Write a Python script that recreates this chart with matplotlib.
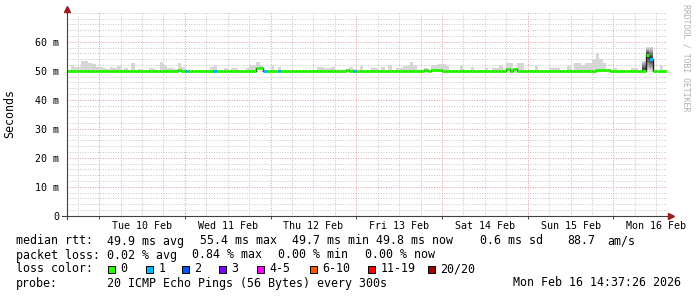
import matplotlib.pyplot as plt
from matplotlib.lines import Line2D
from matplotlib.patches import Rectangle

plt.rcParams['font.family'] = ['DejaVu Sans Mono', 'DejaVu Sans']

# hourly bins, first bin starts Mon 9 Feb 15:00 (x axis = hours after Mon 9 Feb 00:00)
first_hour = 15
day_labels = ['Tue 10 Feb', 'Wed 11 Feb', 'Thu 12 Feb', 'Fri 13 Feb',
              'Sat 14 Feb', 'Sun 15 Feb', 'Mon 16 Feb']

# median rtt per hour (ms)
median_ms = [
    50.0, 50.0, 50.0, 50.0, 50.0, 50.0, 50.0, 50.0, 50.0, 50.0, 50.0, 50.0,
    50.0, 50.0, 50.0, 50.0, 50.0, 50.0, 50.0, 50.0, 50.0, 50.0, 50.0, 50.0,
    50.0, 50.0, 50.0, 50.0, 50.0, 50.0, 50.0, 50.2, 50.0, 49.9, 49.9, 50.0,
    50.0, 50.0, 50.0, 50.0, 50.0, 49.9, 50.0, 50.0, 50.0, 50.0, 50.0, 50.0,
    50.0, 50.0, 50.0, 50.0, 50.0, 50.8, 50.8, 49.9, 50.0, 50.0, 50.0, 49.9,
    50.0, 50.0, 50.0, 50.0, 50.0, 50.0, 50.0, 50.0, 50.0, 50.0, 50.0, 50.0,
    50.0, 50.0, 50.0, 50.0, 50.0, 50.0, 50.4, 50.0, 49.9, 50.0, 50.0, 50.0,
    50.0, 50.0, 50.0, 50.0, 50.0, 50.0, 50.0, 50.0, 50.0, 50.0, 50.0, 50.0,
    50.0, 50.0, 50.0, 50.0, 50.3, 50.0, 50.4, 50.4, 50.2, 50.0, 50.0, 50.0,
    50.0, 50.0, 50.0, 50.0, 50.0, 50.0, 50.0, 50.0, 50.0, 50.0, 50.0, 50.0,
    50.0, 50.0, 50.0, 50.5, 50.0, 50.6, 50.0, 50.0, 50.0, 50.0, 50.0, 50.0,
    50.0, 50.0, 50.0, 50.0, 50.0, 50.0, 50.0, 50.0, 50.0, 50.0, 50.0, 50.0,
    50.0, 50.0, 50.0, 50.0, 50.3, 50.3, 50.3, 50.3, 49.9, 50.0, 50.0, 50.0,
    50.0, 50.0, 50.0, 50.0, 50.0, 50.0, 55.4, 54.2, 49.9, 49.9, 49.9, 49.8,
]

# lost pings out of 20 per hour
loss = [
    0, 0, 0, 0, 0, 0, 0, 0, 0, 0, 0, 0, 0, 0, 0, 0, 0, 0, 0, 0, 0, 0, 0, 0,
    0, 0, 0, 0, 0, 0, 0, 0, 0, 1, 0, 0, 0, 0, 0, 0, 0, 1, 0, 0, 0, 0, 0, 0,
    0, 0, 0, 0, 0, 0, 0, 1, 0, 0, 0, 1, 0, 0, 0, 0, 0, 0, 0, 0, 0, 0, 0, 0,
    0, 0, 0, 0, 0, 0, 0, 0, 1, 0, 0, 0, 0, 0, 0, 0, 0, 0, 0, 0, 0, 0, 0, 0,
    0, 0, 0, 0, 0, 0, 0, 0, 0, 0, 0, 0, 0, 0, 0, 0, 0, 0, 0, 0, 0, 0, 0, 0,
    0, 0, 0, 0, 0, 0, 0, 0, 0, 0, 0, 0, 0, 0, 0, 0, 0, 0, 0, 0, 0, 0, 0, 0,
    0, 0, 0, 0, 0, 0, 0, 0, 0, 0, 0, 0, 0, 0, 0, 0, 0, 0, 0, 1, 0, 0, 0, 0,
]

# slowest ping per hour (ms) - top of the smoke
smoke_max = [
    50.3, 52.0, 51.3, 51.3, 53.3, 53.3, 52.7, 52.4, 51.3, 51.3, 50.9, 50.6,
    51.4, 50.9, 51.7, 50.4, 50.8, 50.3, 52.6, 50.4, 50.7, 50.3, 50.3, 50.8,
    50.6, 50.3, 53.0, 52.1, 51.0, 50.9, 50.7, 52.6, 51.2, 50.3, 50.3, 50.3,
    50.3, 50.3, 50.3, 50.3, 51.2, 51.6, 50.4, 50.3, 51.1, 50.3, 51.1, 51.1,
    50.3, 50.3, 51.1, 52.0, 52.0, 52.9, 51.8, 50.4, 50.4, 51.6, 50.3, 51.3,
    50.3, 50.3, 50.3, 50.3, 50.3, 50.3, 50.3, 50.3, 50.3, 50.3, 51.3, 51.3,
    51.1, 51.1, 51.3, 50.3, 50.3, 50.3, 50.6, 51.3, 50.6, 50.3, 51.6, 50.3,
    50.3, 50.9, 50.9, 50.3, 51.3, 50.3, 52.1, 50.3, 51.1, 51.1, 51.6, 51.6,
    52.9, 52.1, 50.3, 50.3, 51.1, 50.3, 52.1, 52.1, 52.2, 52.2, 51.6, 50.4,
    50.3, 50.3, 51.8, 50.3, 50.3, 51.3, 50.3, 50.3, 50.3, 51.1, 50.3, 50.9,
    50.9, 51.8, 50.3, 52.5, 52.5, 50.8, 52.7, 52.7, 50.3, 50.3, 50.3, 51.6,
    50.3, 50.3, 50.3, 51.1, 51.1, 51.1, 50.3, 50.3, 51.6, 50.3, 52.7, 52.7,
    51.9, 52.5, 52.5, 53.9, 56.0, 54.2, 52.5, 50.4, 50.3, 51.1, 50.3, 50.3,
    50.3, 50.3, 50.9, 50.9, 50.3, 53.5, 58.2, 58.2, 50.3, 50.3, 52.1, 50.3,
]

# hours with a wide spread of ping times (dense smoke)
dense_bins = [161, 162, 163]
dense_min = [50.0, 50.3, 50.0]

loss_labels = ['0', '1', '2', '3', '4-5', '6-10', '11-19', '20/20']
loss_colors = ['#26ff00', '#00b8ff', '#0059ff', '#7e00ff',
               '#ff00ff', '#ff5500', '#ff0000', '#a10000']

stats_rtt = ['49.9 ms avg', '55.4 ms max', '49.7 ms min', '49.8 ms now',
             '0.6 ms sd', '88.7', 'am/s']
stats_loss = ['0.02 % avg', '0.84 % max', '0.00 % min', '0.00 % now']
probe_text = '20 ICMP Echo Pings (56 Bytes) every 300s'
stamp_text = 'Mon Feb 16 14:37:26 2026'

W, H = 697, 297
fig = plt.figure(figsize=(W / 100, H / 100), dpi=100)
fig.patch.set_facecolor('white')
ax = fig.add_axes([67 / W, (H - 215.7) / H, 600 / W, 203.8 / H])
ax.set_xlim(first_hour, first_hour + len(median_ms))
ax.set_ylim(0, 70.28)
for s in ax.spines.values():
    s.set_visible(False)

# grid
minor_c = '#c4c4c4'
major_c = '#e09a9a'
dots = (0, (1, 1.6))
for v in range(2, 71, 2):
    if v % 10 != 0 or v == 70:
        ax.axhline(v, color=minor_c, lw=0.7, ls=dots, zorder=0)
for v in range(10, 70, 10):
    ax.axhline(v, color=major_c, lw=0.7, ls=dots, zorder=0)
for h in range(18, first_hour + len(median_ms), 6):
    ax.axvline(h, color=major_c if h % 24 == 0 else minor_c, lw=0.7, ls=dots, zorder=0)

hours = [first_hour + i for i in range(len(median_ms))]

# smoke
ax.bar(hours, [t - m for t, m in zip(smoke_max, median_ms)], bottom=median_ms,
       width=1, align='edge', color='#d6d6d6', linewidth=0, zorder=1)
for i, lo in zip(dense_bins, dense_min):
    med, hi = median_ms[i], smoke_max[i]
    n = 9
    for k in range(n):
        f = 1 - k / n
        shade = 0.84 - 0.62 * k / (n - 1)
        ax.bar(hours[i], (hi - med) * f + (med - lo) * f, bottom=med - (med - lo) * f,
               width=1, align='edge', color=(shade, shade, shade), linewidth=0, zorder=2)

# median line: dark step line + loss coloured segments
ax.step(hours + [hours[-1] + 1], median_ms + [median_ms[-1]], where='post',
        color='#202020', lw=1.0, zorder=3)
for h, m, l in zip(hours, median_ms, loss):
    ax.hlines(m, h, h + 1, color=loss_colors[min(l, 7)], lw=2.1, zorder=4,
              capstyle='butt')

# ticks
ax.set_yticks(range(0, 70, 10))
ax.set_yticklabels(['0'] + ['%d m' % v for v in range(10, 70, 10)])
ax.set_xticks([36 + 24 * k for k in range(len(day_labels))])
ax.set_xticklabels(day_labels)
ax.tick_params(axis='both', length=0, labelsize=7.2, colors='black')
ax.tick_params(axis='y', pad=5.5)
ax.tick_params(axis='x', pad=4)
ax.set_xticks(range(24, first_hour + len(median_ms), 24), minor=True)
ax.tick_params(axis='x', which='minor', length=2.5, width=0.7, color='#404040',
               direction='out')


def fx(x):
    return x / W


def fy(y):
    return 1 - y / H


# axis lines and arrows
fig.add_artist(Line2D([fx(67), fx(67)], [fy(219), fy(10)], color='#404040', lw=0.8))
fig.add_artist(Line2D([fx(62), fx(670)], [fy(215.7), fy(215.7)], color='#404040', lw=0.8))
fig.add_artist(Line2D([fx(67)], [fy(9)], marker='^', ms=4.5, color='#9b1c1c', lw=0))
fig.add_artist(Line2D([fx(671)], [fy(215.7)], marker='>', ms=4.5, color='#9b1c1c', lw=0))

fig.text(fx(10), fy(113.5), 'Seconds', rotation=90, ha='center', va='center', fontsize=8.4)
fig.text(fx(686), fy(4), 'RRDTOOL / TOBI OETIKER', rotation=270, ha='center', va='top',
         fontsize=5.9, color='#b0b0b0')

# legend lines
fs = 8.4
rtt_x = [107, 199.5, 291.5, 376, 479.5, 567.5, 607.5]
loss_x = [107, 192.5, 278.5, 365]
fig.text(fx(16), fy(241), 'median rtt:', va='center', fontsize=fs)
for x, t in zip(rtt_x, stats_rtt):
    fig.text(fx(x), fy(241), t, va='center', fontsize=fs)
fig.text(fx(16), fy(255), 'packet loss:', va='center', fontsize=fs)
for x, t in zip(loss_x, stats_loss):
    fig.text(fx(x), fy(255), t, va='center', fontsize=fs)

fig.text(fx(16), fy(269), 'loss color:', va='center', fontsize=fs)
box_x = [107.5, 146, 182, 218.5, 256.5, 310, 368, 428]
for x, lab, c in zip(box_x, loss_labels, loss_colors):
    fig.add_artist(Rectangle((fx(x), fy(273)), 7 / W, 7 / H, transform=fig.transFigure,
                             facecolor=c, edgecolor='black', lw=0.7))
    fig.text(fx(x + 12.5), fy(269), lab, va='center', fontsize=fs)

fig.text(fx(16), fy(283), 'probe:', va='center', fontsize=fs)
fig.text(fx(107), fy(283), probe_text, va='center', fontsize=fs)
fig.text(fx(681), fy(283), stamp_text, va='center', ha='right', fontsize=fs)

fig.savefig('out.png', dpi=100, facecolor='white')
